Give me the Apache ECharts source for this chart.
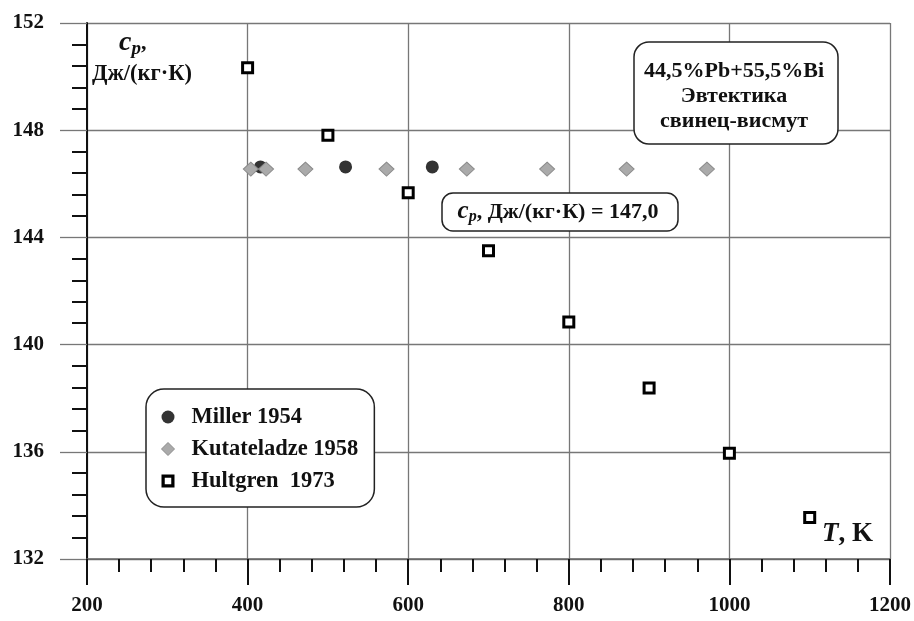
<!DOCTYPE html>
<html>
<head>
<meta charset="utf-8">
<script src="https://cdn.jsdelivr.net/npm/echarts@6/dist/echarts.min.js"></script>
<style>
  html, body { margin: 0; padding: 0; background: #fff; }
  #chart { width: 914px; height: 621px; }
</style>
</head>
<body>
<div id="chart"></div>
<script>
// Specific heat of the lead–bismuth eutectic, c_p vs temperature T
const millerT = [416, 522, 630];
const millerCp = [146.63, 146.63, 146.63];

const kutateladzeT = [404, 423, 472, 573, 673, 773, 872, 972];
const kutateladzeCp = [146.55, 146.55, 146.55, 146.55, 146.55, 146.55, 146.55, 146.55];

const hultgrenT = [400, 500, 600, 700, 800, 900, 1000, 1100];
const hultgrenCp = [150.33, 147.81, 145.67, 143.5, 140.84, 138.38, 135.95, 133.55];

const xTicks = [200, 400, 600, 800, 1000, 1200];
const yTicks = [132, 136, 140, 144, 148, 152];

const seriesNames = ['Miller 1954', 'Kutateladze 1958', 'Hultgren  1973'];

const FONT = 'Liberation Serif';

// hollow square drawn as a filled ring so the legend keeps the thick outline
const SQUARE_RING = 'path://M0,0H12V12H0Z M3,3V9H9V3Z';

function pairs(xs, ys) {
  return xs.map((x, i) => [x, ys[i]]);
}

const chart = echarts.init(document.getElementById('chart'), null, { renderer: 'canvas' });

const option = {
  backgroundColor: '#fff',
  animation: false,
  grid: { left: 87, right: 24, top: 23, bottom: 62, containLabel: false },
  xAxis: {
    type: 'value',
    min: xTicks[0],
    max: xTicks[xTicks.length - 1],
    interval: 200,
    axisLine: { show: true, lineStyle: { color: '#666', width: 1.5 } },
    axisTick: { show: true, inside: false, length: 26, lineStyle: { color: '#111', width: 2 } },
    minorTick: { show: true, splitNumber: 5, length: 13, lineStyle: { color: '#111', width: 2 } },
    splitLine: { show: true, lineStyle: { color: '#777', width: 1.3 } },
    axisLabel: {
      margin: 36, color: '#111', fontFamily: FONT, fontWeight: 'bold', fontSize: 21,
      formatter: v => String(v)
    }
  },
  yAxis: {
    type: 'value',
    min: yTicks[0],
    max: yTicks[yTicks.length - 1],
    interval: 4,
    axisLine: { show: true, lineStyle: { color: '#111', width: 2 } },
    axisTick: { show: true, inside: false, length: 27, lineStyle: { color: '#777', width: 1.3 } },
    minorTick: { show: true, splitNumber: 5, length: 15, lineStyle: { color: '#111', width: 2 } },
    splitLine: { show: true, lineStyle: { color: '#777', width: 1.3 } },
    axisLabel: {
      margin: 43, color: '#111', fontFamily: FONT, fontWeight: 'bold', fontSize: 21,
      formatter: v => String(v)
    }
  },
  legend: {
    orient: 'vertical',
    left: 146,
    top: 389,
    padding: [16, 16, 14, 15],
    itemGap: 8,
    itemWidth: 13,
    itemHeight: 13,
    backgroundColor: '#fff',
    borderColor: '#222',
    borderWidth: 1.5,
    borderRadius: 18,
    data: [
      { name: seriesNames[0] },
      { name: seriesNames[1], itemStyle: { color: '#aaa', borderColor: '#8c8c8c', borderWidth: 1 } },
      { name: seriesNames[2], icon: SQUARE_RING, itemStyle: { color: '#000', borderWidth: 0 } }
    ],
    textStyle: {
      fontFamily: FONT, fontWeight: 'bold', fontSize: 22.5, color: '#111',
      lineHeight: 24, padding: [0, 0, 0, 12]
    }
  },
  series: [
    {
      name: seriesNames[0],
      type: 'scatter',
      symbol: 'circle',
      symbolSize: 13,
      itemStyle: { color: '#333', opacity: 1 },
      data: pairs(millerT, millerCp),
      z: 3
    },
    {
      name: seriesNames[1],
      type: 'scatter',
      symbol: 'diamond',
      symbolSize: [15, 14],
      itemStyle: { color: '#aaa', borderColor: '#8c8c8c', borderWidth: 1, opacity: 1 },
      data: pairs(kutateladzeT, kutateladzeCp),
      z: 4
    },
    {
      name: seriesNames[2],
      type: 'scatter',
      symbol: 'rect',
      symbolSize: 10,
      itemStyle: { color: '#fff', borderColor: '#000', borderWidth: 3, opacity: 1 },
      data: pairs(hultgrenT, hultgrenCp),
      z: 5
    }
  ],
  graphic: [
    // y-axis title
    {
      type: 'text', left: 119, top: 29, z: 10,
      style: {
        text: '{c|c}{s|p}{n|,}',
        rich: {
          c: { fontFamily: FONT, fontStyle: 'italic', fontWeight: 'bold', fontSize: 28, fill: '#111' },
          s: { fontFamily: FONT, fontStyle: 'italic', fontWeight: 'bold', fontSize: 19, fill: '#111', padding: [12, 0, 0, 0] },
          n: { fontFamily: FONT, fontWeight: 'bold', fontSize: 22, fill: '#111' }
        }
      }
    },
    {
      type: 'text', left: 92, top: 63, z: 10,
      style: { text: 'Дж/(кг·К)', fontFamily: FONT, fontWeight: 'bold', fontSize: 22.5, fill: '#111' }
    },
    // x-axis title
    {
      type: 'text', left: 822, top: 521, z: 10,
      style: {
        text: '{t|T}{n|, K}',
        rich: {
          t: { fontFamily: FONT, fontStyle: 'italic', fontWeight: 'bold', fontSize: 27, fill: '#111' },
          n: { fontFamily: FONT, fontWeight: 'bold', fontSize: 27, fill: '#111' }
        }
      }
    },
    // alloy caption box
    {
      type: 'rect', z: 9,
      shape: { x: 634, y: 42, width: 204, height: 102, r: 15 },
      style: { fill: '#fff', stroke: '#222', lineWidth: 1.5 }
    },
    {
      type: 'text', z: 10, x: 734, y: 96,
      style: {
        text: '44,5%Pb+55,5%Bi\nЭвтектика\nсвинец-висмут',
        align: 'center', verticalAlign: 'middle',
        fontFamily: FONT, fontWeight: 'bold', fontSize: 22, lineHeight: 25, fill: '#111'
      }
    },
    // mean value box
    {
      type: 'rect', z: 9,
      shape: { x: 442, y: 193, width: 236, height: 38, r: 11 },
      style: { fill: '#fff', stroke: '#222', lineWidth: 1.5 }
    },
    {
      type: 'text', z: 10, x: 558, y: 212,
      style: {
        text: '{c|c}{s|p}{n|, Дж/(кг·К) = 147,0}',
        align: 'center', verticalAlign: 'middle',
        rich: {
          c: { fontFamily: FONT, fontStyle: 'italic', fontWeight: 'bold', fontSize: 25, fill: '#111' },
          s: { fontFamily: FONT, fontStyle: 'italic', fontWeight: 'bold', fontSize: 16, fill: '#111', padding: [10, 0, 0, 0] },
          n: { fontFamily: FONT, fontWeight: 'bold', fontSize: 22, fill: '#111' }
        }
      }
    }
  ]
};

chart.setOption(option);
</script>
</body>
</html>
